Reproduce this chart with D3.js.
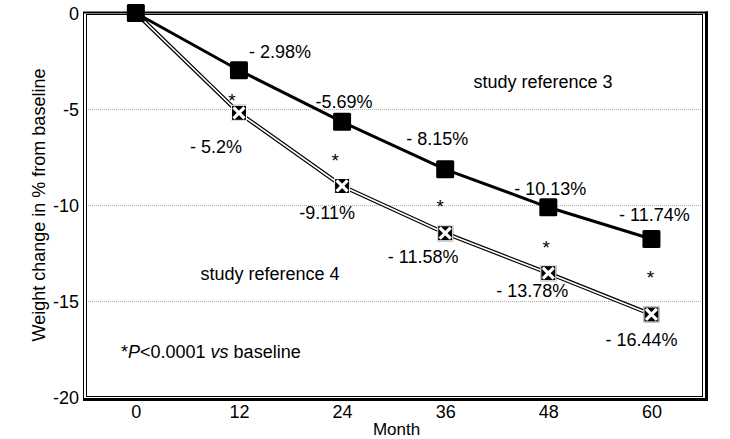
<!DOCTYPE html>
<html>
<head>
<meta charset="utf-8">
<script src="https://cdn.jsdelivr.net/npm/d3@7"></script>
<style>
  html, body { margin: 0; padding: 0; background: #fff; }
  svg { display: block; font-family: "Liberation Sans", Arial, Helvetica, sans-serif; }
</style>
</head>
<body>
<svg id="chart" width="730" height="439"></svg>
<script>
// ---- data ----
const months = [0, 12, 24, 36, 48, 60];
const ref3Values = [0, -2.98, -5.67, -8.14, -10.12, -11.77];
const ref4Values = [0, -5.2, -9.01, -11.47, -13.55, -15.7];
const ref3Labels = [null, "- 2.98%", "-5.69%", "- 8.15%", "- 10.13%", "- 11.74%"];
const ref4Labels = [null, "- 5.2%", "-9.11%", "- 11.58%", "- 13.78%", "- 16.44%"];
const sigMonths = [12, 24, 36, 48, 60];
const yTicks = [0, -5, -10, -15, -20];
const xTicks = [0, 12, 24, 36, 48, 60];
const seriesNames = ["study reference 3", "study reference 4"];

// ---- layout ----
const W = 730, H = 439;
const plot = { left: 86, right: 703, top: 13, bottom: 397 };
const x = d3.scaleLinear().domain([-5.8, 66]).range([plot.left, plot.right]);
const y = d3.scaleLinear().domain([0, -20]).range([plot.top, plot.bottom]);
const FS = 18;

// label offsets (pixels from the marker)
const ref3Off = [null, [41, -12], [2, -14], [-8, -24], [2, -12], [3, -18]];
const ref4Off = [null, [-23, 40], [-15, 33], [-22, 30], [-16, 24], [-10, 32]];
const sigOff = [[-7, -23], [-7, -36], [-5, -37], [-2, -36], [-1, -47]];

const svg = d3.select("#chart");

// gridlines
svg.append("g").selectAll("line")
  .data([-5, -10, -15]).join("line")
  .attr("x1", plot.left).attr("x2", plot.right)
  .attr("y1", d => y(d) + 0.5).attr("y2", d => y(d) + 0.5)
  .attr("stroke", "#b0b0b0").attr("stroke-width", 1)
  .attr("stroke-dasharray", "1,1");

// frame: inner thin rectangle + shadowed outer
svg.append("rect")
  .attr("x", plot.left + 0.5).attr("y", plot.top + 1.5)
  .attr("width", plot.right - plot.left - 1).attr("height", plot.bottom - plot.top - 2)
  .attr("fill", "none").attr("stroke", "#000").attr("stroke-width", 1);
svg.append("line").attr("x1", plot.left - 2.5).attr("x2", plot.left - 2.5)
  .attr("y1", plot.top).attr("y2", plot.bottom + 4).attr("stroke", "#000").attr("stroke-width", 1);
svg.append("line").attr("x1", plot.left - 3).attr("x2", plot.right + 5)
  .attr("y1", plot.top - 0.5).attr("y2", plot.top - 0.5).attr("stroke", "#000").attr("stroke-width", 2);
svg.append("line").attr("x1", plot.right + 3.5).attr("x2", plot.right + 3.5)
  .attr("y1", plot.top - 1.5).attr("y2", plot.bottom + 4).attr("stroke", "#000").attr("stroke-width", 3);
svg.append("line").attr("x1", plot.left - 3).attr("x2", plot.right + 5)
  .attr("y1", plot.bottom + 2.5).attr("y2", plot.bottom + 2.5).attr("stroke", "#000").attr("stroke-width", 3);

// axes (labels only)
const yAxis = d3.axisLeft(y).tickValues(yTicks).tickSize(0).tickPadding(0).tickFormat(d3.format("d"));
const gy = svg.append("g").attr("transform", `translate(${plot.left - 7},0)`).call(yAxis);
gy.select(".domain").remove();
gy.selectAll("text").attr("font-size", FS).attr("font-family", null).attr("fill", "#000")
  .attr("dy", "0.34em").text(d => d === 0 ? "0" : "-" + Math.abs(d));

const xAxis = d3.axisBottom(x).tickValues(xTicks).tickSize(0).tickPadding(0);
const gx = svg.append("g").attr("transform", `translate(0,${plot.bottom + 21})`).call(xAxis);
gx.select(".domain").remove();
gx.selectAll("text").attr("font-size", FS).attr("font-family", null).attr("fill", "#000").attr("dy", 0);

// axis titles
svg.append("text").attr("x", (plot.left + plot.right) / 2 + 2).attr("y", 435)
  .attr("text-anchor", "middle").attr("font-size", 17).text("Month");
svg.append("text")
  .attr("transform", `translate(45,${(plot.top + plot.bottom) / 2}) rotate(-90)`)
  .attr("text-anchor", "middle").attr("font-size", FS)
  .text("Weight change in % from baseline");

const line = d3.line().x(d => x(d[0])).y(d => y(d[1]));
const ref3 = months.map((m, i) => [m, ref3Values[i]]);
const ref4 = months.map((m, i) => [m, ref4Values[i]]);

// series 4: double line
svg.append("path").datum(ref4).attr("d", line).attr("fill", "none")
  .attr("stroke", "#000").attr("stroke-width", 4);
svg.append("path").datum(ref4).attr("d", line).attr("fill", "none")
  .attr("stroke", "#fff").attr("stroke-width", 1.6);

// series 3: thick line
svg.append("path").datum(ref3).attr("d", line).attr("fill", "none")
  .attr("stroke", "#000").attr("stroke-width", 3);

// series 4 markers: boxed X
const s4 = 16;
const m4 = svg.append("g").selectAll("g").data(ref4).join("g")
  .attr("transform", d => `translate(${x(d[0])},${y(d[1])})`);
m4.append("rect").attr("x", -s4 / 2).attr("y", -s4 / 2).attr("width", s4).attr("height", s4)
  .attr("fill", "#000");
m4.append("path")
  .attr("d", `M${-s4/2+2.5},${-s4/2+2.5}L${s4/2-2.5},${s4/2-2.5}M${s4/2-2.5},${-s4/2+2.5}L${-s4/2+2.5},${s4/2-2.5}`)
  .attr("stroke", "#fff").attr("stroke-width", 3.2);
m4.append("rect").attr("x", -s4 / 2 + 0.5).attr("y", -s4 / 2 + 0.5).attr("width", s4 - 1).attr("height", s4 - 1)
  .attr("fill", "none").attr("stroke", "#fff").attr("stroke-width", 1);

// series 3 markers: filled squares
const s3 = 18;
svg.append("g").selectAll("rect").data(ref3).join("rect")
  .attr("x", d => x(d[0]) - s3 / 2).attr("y", d => y(d[1]) - s3 / 2)
  .attr("width", s3).attr("height", s3).attr("rx", 1.5).attr("fill", "#000");

// value labels
function labels(data, texts, offs) {
  svg.append("g").selectAll("text")
    .data(data.map((d, i) => ({ d, t: texts[i], o: offs[i] })).filter(e => e.t))
    .join("text")
    .attr("x", e => x(e.d[0]) + e.o[0]).attr("y", e => y(e.d[1]) + e.o[1])
    .attr("text-anchor", "middle").attr("font-size", FS).text(e => e.t);
}
labels(ref3, ref3Labels, ref3Off);
labels(ref4, ref4Labels, ref4Off);

// significance asterisks
svg.append("g").selectAll("text").data(sigMonths).join("text")
  .attr("x", (m, i) => x(m) + sigOff[i][0])
  .attr("y", (m, i) => y(ref4Values[months.indexOf(m)]) + sigOff[i][1] + 17)
  .attr("text-anchor", "middle").attr("font-size", 19).text("*");

// series names
svg.append("text").attr("x", 543).attr("y", 88).attr("text-anchor", "middle")
  .attr("font-size", FS).text(seriesNames[0]);
svg.append("text").attr("x", 270).attr("y", 280).attr("text-anchor", "middle")
  .attr("font-size", FS).text(seriesNames[1]);

// footnote
const fn = svg.append("text").attr("x", 121).attr("y", 358).attr("font-size", FS);
fn.append("tspan").text("*");
fn.append("tspan").attr("font-style", "italic").text("P");
fn.append("tspan").text("<0.0001 ");
fn.append("tspan").attr("font-style", "italic").text("vs");
fn.append("tspan").text(" baseline");
</script>
</body>
</html>
